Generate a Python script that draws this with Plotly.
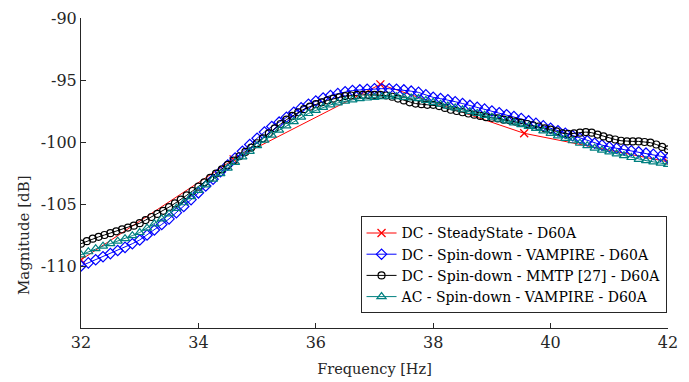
import numpy as np
import plotly.graph_objects as go

# ---------------- data ----------------
freq_ss = [32.0, 34.6, 37.1, 39.55, 42.0]
mag_ss = [-109.5, -101.4, -95.35, -99.3, -101.6]

freq_vamp = [32 + 0.125 * i for i in range(81)]
mag_dc_vamp = [
    -110.0, -109.75, -109.5, -109.25, -109.0, -108.75, -108.5, -108.2,
    -107.9, -107.5, -107.1, -106.65, -106.2, -105.7, -105.2, -104.65,
    -104.1, -103.55, -103.0, -102.4, -101.85, -101.3, -100.75, -100.2,
    -99.7, -99.2, -98.75, -98.4, -98.0, -97.6, -97.25, -96.95,
    -96.7, -96.45, -96.25, -96.1, -95.95, -95.85, -95.8, -95.75,
    -95.7, -95.7, -95.7, -95.75, -95.8, -95.9, -96.0, -96.2,
    -96.4, -96.5, -96.6, -96.75, -96.9, -97.05, -97.2, -97.35,
    -97.5, -97.65, -97.8, -97.95, -98.1, -98.3, -98.5, -98.7,
    -98.9, -99.1, -99.3, -99.5, -99.7, -99.9, -100.1, -100.25,
    -100.4, -100.5, -100.6, -100.7, -100.8, -100.9, -101.0, -101.15,
    -101.3,
]
mag_ac_vamp = [
    -109.1, -108.85, -108.6, -108.4, -108.2, -108.0, -107.8, -107.55,
    -107.3, -106.95, -106.6, -106.2, -105.8, -105.35, -104.9, -104.4,
    -103.9, -103.45, -103.0, -102.55, -102.1, -101.65, -101.2, -100.75,
    -100.3, -99.85, -99.45, -99.05, -98.7, -98.35, -98.0, -97.7,
    -97.45, -97.2, -97.0, -96.85, -96.7, -96.6, -96.5, -96.45,
    -96.4, -96.35, -96.3, -96.35, -96.4, -96.45, -96.5, -96.65,
    -96.8, -96.95, -97.1, -97.25, -97.4, -97.55, -97.7, -97.85,
    -98.0, -98.15, -98.3, -98.45, -98.6, -98.75, -98.9, -99.1,
    -99.3, -99.5, -99.7, -99.9, -100.1, -100.3, -100.5, -100.65,
    -100.8, -100.95, -101.1, -101.25, -101.4, -101.5, -101.6, -101.7,
    -101.8,
]

freq_mmtp = [32 + 0.1 * i for i in range(101)]
mag_mmtp = [
    -108.2, -108.0, -107.8, -107.65, -107.5, -107.35, -107.2, -107.05, -106.9, -106.75,
    -106.55, -106.3, -106.05, -105.8, -105.55, -105.25, -104.95, -104.65, -104.3, -103.95,
    -103.6, -103.25, -102.9, -102.55, -102.2, -101.85, -101.5, -101.15, -100.8, -100.45,
    -100.1, -99.7, -99.3, -98.9, -98.55, -98.2, -97.9, -97.6, -97.35, -97.15,
    -96.95, -96.8, -96.65, -96.5, -96.4, -96.3, -96.25, -96.2, -96.2, -96.2,
    -96.2, -96.2, -96.25, -96.35, -96.5, -96.65, -96.8, -96.9, -96.95, -97.0,
    -97.0, -97.1, -97.25, -97.4, -97.5, -97.6, -97.7, -97.8, -97.9, -98.0,
    -98.05, -98.1, -98.2, -98.25, -98.35, -98.45, -98.55, -98.65, -98.75, -98.9,
    -99.0, -99.15, -99.3, -99.35, -99.3, -99.25, -99.2, -99.25, -99.4, -99.55,
    -99.7, -99.8, -99.9, -99.95, -99.95, -99.95, -100.0, -100.05, -100.2, -100.4,
    -100.6,
]

x_ticks = [32, 34, 36, 38, 40, 42]
y_ticks = [-110, -105, -100, -95, -90]

names = [
    "DC - SteadyState - D60A",
    "DC - Spin-down - VAMPIRE - D60A",
    "DC - Spin-down - MMTP [27] - D60A",
    "AC - Spin-down - VAMPIRE - D60A",
]

FONT = "DejaVu Serif"
AX = "#262626"

fig = go.Figure()
fig.add_trace(go.Scatter(
    x=freq_ss, y=mag_ss, name=names[0], mode="lines+markers",
    line=dict(color="#ff0000", width=1),
    marker=dict(symbol="x-thin-open", size=8, line=dict(color="#ff0000", width=1.3)),
))
fig.add_trace(go.Scatter(
    x=freq_vamp, y=mag_dc_vamp, name=names[1], mode="lines+markers",
    line=dict(color="#0000ff", width=1),
    marker=dict(symbol="diamond-open", size=8, color="#0000ff", line=dict(width=1.2)),
))
fig.add_trace(go.Scatter(
    x=freq_mmtp, y=mag_mmtp, name=names[2], mode="lines+markers",
    line=dict(color="#000000", width=1),
    marker=dict(symbol="circle-open", size=7, color="#000000", line=dict(width=1.2)),
))
fig.add_trace(go.Scatter(
    x=freq_vamp, y=mag_ac_vamp, name=names[3], mode="lines+markers",
    line=dict(color="#008080", width=1),
    marker=dict(symbol="triangle-up-open", size=8, color="#008080", line=dict(width=1.2)),
))

# page body has an 8px margin, so the figure is sized to fit the window
fig.update_layout(
    width=681, height=374,
    margin=dict(l=73, r=21, t=10, b=54),
    paper_bgcolor="white", plot_bgcolor="white",
    font=dict(family=FONT, size=15, color=AX),
    showlegend=True,
    legend=dict(
        x=0.9975, xanchor="right", y=0.36, yanchor="top",
        bgcolor="white", bordercolor="#262626", borderwidth=1,
        font=dict(family=FONT, size=14, color="#000000"),
        itemwidth=30, tracegroupgap=0,
    ),
    annotations=[dict(
        text="Magnitude [dB]", textangle=-90, showarrow=False,
        xref="paper", yref="paper", x=-0.097, y=0.30,
        xanchor="center", yanchor="middle",
        font=dict(family=FONT, size=15, color=AX),
    )],
)
fig.update_xaxes(
    range=[32, 42], tickvals=x_ticks, ticktext=[str(v) for v in x_ticks],
    showgrid=False, zeroline=False, showline=True, linecolor=AX, linewidth=1,
    ticks="inside", ticklen=5, tickcolor=AX, mirror=False, automargin=False,
    title=dict(text="Frequency [Hz]", font=dict(family=FONT, size=14.5, color=AX), standoff=12),
    tickfont=dict(family=FONT, size=16, color=AX),
)
fig.update_yaxes(
    range=[-115, -90], tickvals=y_ticks, ticktext=[str(v) for v in y_ticks],
    showgrid=False, zeroline=False, showline=True, linecolor=AX, linewidth=1,
    ticks="inside", ticklen=5, tickcolor=AX, mirror=False, automargin=False,
    ticklabeloverflow="allow",
    tickfont=dict(family=FONT, size=16, color=AX),
)

fig.write_html("out.html")
